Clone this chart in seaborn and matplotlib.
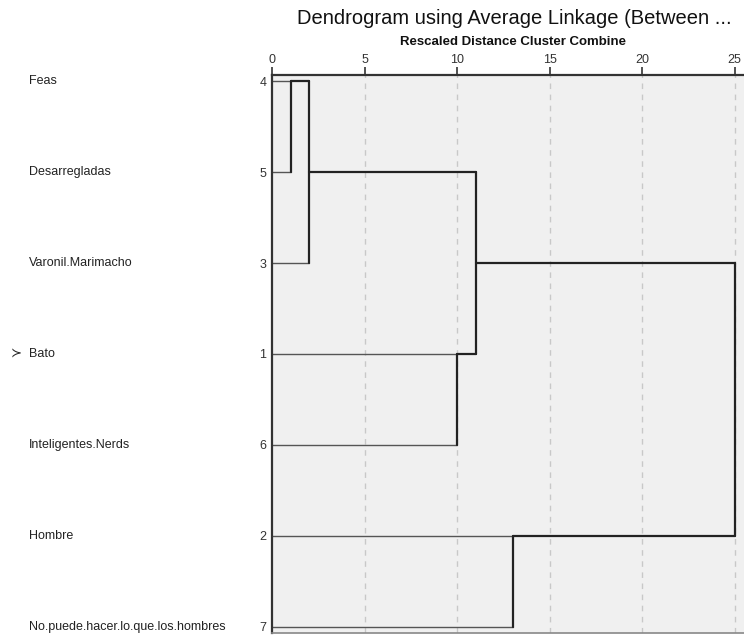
import matplotlib

matplotlib.use("Agg")
import matplotlib.pyplot as plt
import matplotlib.transforms as mtransforms
import numpy as np
import pandas as pd
import seaborn as sns

# leaves in the order they appear top to bottom
LEAF_LABELS = [
    "Feas",
    "Desarregladas",
    "Varonil.Marimacho",
    "Bato",
    "Inteligentes.Nerds",
    "Hombre",
    "No.puede.hacer.lo.que.los.hombres",
]
CASE_IDS = [4, 5, 3, 1, 6, 2, 7]
MARKED_LEAF = "Bato"

# merge steps: cluster ids 0..6 are leaves, each merge creates id 7, 8, ...
MERGE_A = [0, 7, 3, 8, 5, 10]
MERGE_B = [1, 2, 4, 9, 6, 11]
MERGE_DIST = [1, 2, 10, 11, 13, 25]

X_TICKS = [0, 5, 10, 15, 20, 25]
TITLE = "Dendrogram using Average Linkage (Between ..."
SUBTITLE = "Rescaled Distance Cluster Combine"


def build_segments() -> pd.DataFrame:
    n = len(LEAF_LABELS)
    pos = {i: float(i) for i in range(n)}
    height = {i: 0.0 for i in range(n)}
    rows = []
    seg = 0
    for k, (a, b, d) in enumerate(zip(MERGE_A, MERGE_B, MERGE_DIST)):
        for child in (a, b):
            kind = "leaf" if child < n else "node"
            rows.append({"seg": seg, "x": height[child], "y": pos[child], "kind": kind})
            rows.append({"seg": seg, "x": d, "y": pos[child], "kind": kind})
            seg += 1
        rows.append({"seg": seg, "x": d, "y": pos[a], "kind": "node"})
        rows.append({"seg": seg, "x": d, "y": pos[b], "kind": "node"})
        seg += 1
        new_id = n + k
        pos[new_id] = float(np.floor((pos[a] + pos[b]) / 2))
        height[new_id] = float(d)
    return pd.DataFrame(rows)


sns.set_style("white")
plt.rcParams["font.family"] = ["Liberation Sans", "DejaVu Sans"]

segments = build_segments()

fig = plt.figure(figsize=(7.44, 6.36), dpi=100)
W, H = 744, 636
ax = fig.add_axes([272 / W, 1 - 633 / H, 1 - 272 / W, (633 - 75) / H])
ax.set_facecolor("#f0f0f0")

for x in X_TICKS[1:]:
    ax.axvline(x, color="#c8c8c8", lw=1.0, ls=(0, (4, 4)), zorder=0)

sns.lineplot(
    data=segments[segments["kind"] == "leaf"],
    x="x", y="y", units="seg", estimator=None, sort=False,
    color="#555555", lw=1.0, ax=ax,
)
sns.lineplot(
    data=segments[segments["kind"] == "node"],
    x="x", y="y", units="seg", estimator=None, sort=False,
    color="#222222", lw=1.6, ax=ax,
)

n = len(LEAF_LABELS)
ax.set_xlim(0, 25.5)
ax.set_ylim(n - 1 + 0.066, -0.066)
ax.set_xlabel("")
ax.set_ylabel("")

ax.xaxis.tick_top()
ax.set_xticks(X_TICKS)
ax.set_xticklabels([str(t) for t in X_TICKS])
ax.tick_params(axis="x", direction="out", length=5.5, width=1.2, pad=1,
               labelsize=9, colors="#333333")
ax.set_yticks(range(n))
ax.set_yticklabels([str(c) for c in CASE_IDS])
ax.tick_params(axis="y", direction="out", length=3, width=1.0, pad=1,
               labelsize=9, colors="#333333")

for side in ["top", "left"]:
    ax.spines[side].set_color("#333333")
    ax.spines[side].set_linewidth(1.6)
ax.spines["bottom"].set_color("#888888")
ax.spines["bottom"].set_linewidth(1.2)
ax.spines["right"].set_visible(False)

label_tf = mtransforms.blended_transform_factory(fig.transFigure, ax.transData)
for i, name in enumerate(LEAF_LABELS):
    ax.text(29 / W, i, name, transform=label_tf, ha="left", va="center",
            fontsize=9, color="#222222")
    if name == MARKED_LEAF:
        ax.text(11 / W, i, "\u227b", transform=label_tf, ha="left", va="center",
                fontsize=9.5, color="#222222", family=["DejaVu Sans"])

fig.text(514 / W, 1 - 19 / H, TITLE, ha="center", va="center", fontsize=14.5, color="#111111")
fig.text(513 / W, 1 - 42 / H, SUBTITLE, ha="center", va="center", fontsize=9.5,
         fontweight="bold", color="#111111")

fig.savefig("out.png", dpi=100)
plt.close(fig)
